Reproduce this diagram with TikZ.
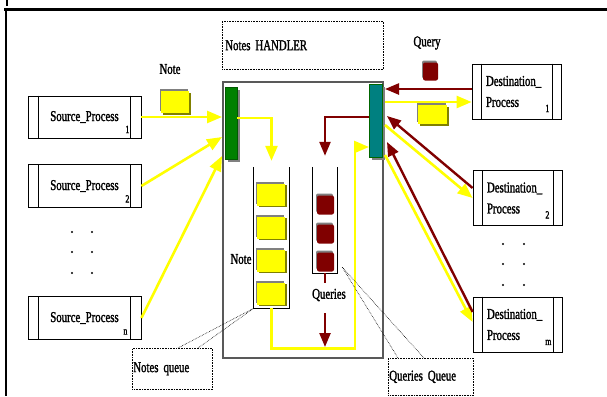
\documentclass[tikz,border=0pt]{standalone}
\usepackage{fontspec}
\setmainfont{Liberation Serif}[FakeStretch=0.72,FakeBold=1.5,WordSpace=0.7]
\usetikzlibrary{arrows.meta,shadows}
\definecolor{ylw}{RGB}{255,255,0}
\definecolor{mrn}{RGB}{128,0,0}
\definecolor{grn}{RGB}{0,128,0}
\definecolor{tea}{RGB}{0,128,128}
\definecolor{olv}{RGB}{128,128,0}
\definecolor{shd}{RGB}{128,128,128}
\begin{document}
\begin{tikzpicture}[x=1pt,y=-1pt,
  lbl/.style={font=\fontsize{15pt}{21pt}\selectfont, inner sep=0pt},
  subs/.style={font=\fontsize{11pt}{11pt}\selectfont, inner sep=0pt},
  procbox/.style={draw, line width=0.8pt, inner sep=0pt, font=\fontsize{15pt}{21pt}\selectfont},
  dotbox/.style={draw, densely dotted, line width=0.6pt, align=left, font=\fontsize{15pt}{21pt}\selectfont},
  yl/.style={draw=ylw, line width=2.6pt},
  mr/.style={draw=mrn, line width=2.4pt},
  ytip/.style={-{Triangle[length=15pt,width=12pt]}},
  mtip/.style={-{Triangle[length=14pt,width=11pt]}},
  notesq/.style={fill=ylw, inner sep=0pt, minimum width=28pt, minimum height=22pt,
    general shadow={fill=shd, shadow xshift=-1pt, shadow yshift=2pt},
    general shadow={fill=olv, shadow xshift=1.5pt, shadow yshift=-1.5pt}},
  qsq/.style={fill=mrn, rounded corners=2pt, inner sep=0pt, minimum width=17pt, minimum height=19pt,
    general shadow={fill=shd, shadow xshift=-1pt, shadow yshift=2pt}},
  barbox/.style={inner sep=0pt, general shadow={fill=shd, shadow xshift=3pt, shadow yshift=-3pt}},
  callout/.style={densely dotted, line width=0.6pt},
  dotmark/.style={fill=black}
]
\useasboundingbox (0,0) rectangle (607,396);

% frame
\draw[line width=3pt] (4,9.5) -- (607,9.5);
\draw[line width=2.5pt] (6,8) -- (6,396);
\draw[line width=1.5pt] (7,0) -- (7,6);

% dotted label boxes
\node[dotbox, minimum width=161pt, minimum height=48pt, text width=155pt, inner sep=3pt, anchor=north west] (hlbl) at (222,21) {Notes HANDLER};
\node[dotbox, minimum width=80pt, minimum height=41pt, text width=78pt, inner sep=1pt, anchor=north west] (nqlbl) at (132,348) {Notes queue};
\node[dotbox, minimum width=85pt, minimum height=37pt, text width=83pt, inner sep=1pt, anchor=north west] (qqlbl) at (388,358) {Queries Queue};

% main handler box
\node[draw=black!65, line width=1.5pt, minimum width=160pt, minimum height=276pt, inner sep=0pt] (hd) at (303,220) {};

% bars
\node[barbox, fill=grn, draw=grn!70!black, line width=0.5pt, minimum width=12pt, minimum height=72pt] (gbar) at (231,123) {};
\node[barbox, fill=tea, draw=grn!80!black, line width=0.5pt, minimum width=13pt, minimum height=73pt] (tbar) at (375.5,120.5) {};

% source processes
\node[procbox, minimum width=113pt, minimum height=42pt] (s1) at (84.5,117) {Source\_Process};
\node[procbox, minimum width=113pt, minimum height=43pt] (s2) at (84.5,186) {Source\_Process};
\node[procbox, minimum width=113pt, minimum height=43pt] (sn) at (84.5,318) {Source\_Process};
\foreach \n in {s1,s2,sn}{
  \draw[line width=0.8pt] ([xshift=11pt]\n.north west) -- ([xshift=11pt]\n.south west);
  \draw[line width=0.8pt] ([xshift=-11pt]\n.north east) -- ([xshift=-11pt]\n.south east);
}
\node[subs] (s1i) at ([shift={(-14,-9)}]s1.south east) {1};
\node[subs] (s2i) at ([shift={(-14,-9)}]s2.south east) {2};
\node[subs] (sni) at ([shift={(-16,-8)}]sn.south east) {n};

% destination processes
\node[procbox, minimum width=89pt, minimum height=55pt, text width=61pt, align=left] (d1) at (516.5,91.5) {Destination\_\\Process};
\node[procbox, minimum width=89pt, minimum height=55pt, text width=61pt, align=left] (d2) at (517.5,198) {Destination\_\\Process};
\node[procbox, minimum width=89pt, minimum height=55pt, text width=61pt, align=left] (dm) at (517.5,324.5) {Destination\_\\Process};
\foreach \n in {d1,d2,dm}{
  \draw[line width=0.8pt] ([xshift=10pt]\n.north west) -- ([xshift=10pt]\n.south west);
  \draw[line width=0.8pt] ([xshift=-9pt]\n.north east) -- ([xshift=-9pt]\n.south east);
}
\node[subs] (d1i) at ([shift={(-14,-11)}]d1.south east) {1};
\node[subs] (d2i) at ([shift={(-15,-11)}]d2.south east) {2};
\node[subs] (dmi) at ([shift={(-14,-10)}]dm.south east) {m};

% dots
\foreach \y in {232,252,273}{\fill[dotmark] (72,\y) circle (1.1pt); \fill[dotmark] (92,\y) circle (1.1pt);}
\foreach \y in {244,264,285}{\fill[dotmark] (503,\y) circle (1.1pt); \fill[dotmark] (524,\y) circle (1.1pt);}

% queues
\node[minimum width=35pt, minimum height=141pt, inner sep=0pt] (nq) at (271.5,237.5) {};
\draw[line width=0.9pt] (nq.north west) -- (nq.south west) -- (nq.south east) -- (nq.north east);
\node[minimum width=24pt, minimum height=106pt, inner sep=0pt] (qq) at (325,220) {};
\draw[line width=0.9pt] (qq.north west) -- (qq.south west) -- (qq.south east) -- (qq.north east);
\node[notesq] (n1) at (271,194.5) {};
\node[notesq] (n2) at (271,227.5) {};
\node[notesq] (n3) at (271,260.5) {};
\node[notesq] (n4) at (271,293.5) {};
\node[qsq] (q1) at (325.5,205) {};
\node[qsq] (q2) at (325.5,234) {};
\node[qsq] (q3) at (325.5,262) {};

% labels
\node[lbl] (notelbl) at (170,69) {Note};
\node[lbl] (querylbl) at (427,43) {Query};
\node[lbl] (notein) at (241,259) {Note};
\node[lbl] (qlbl) at (329,295) {Queries};

% flying messages
\node[notesq] (nfly) at (175,102) {};
\node[notesq, minimum width=29pt, minimum height=19pt] (nfly2) at (432.5,114.5) {};
\node[qsq, minimum width=15pt, minimum height=18pt] (qfly) at (430.5,71.5) {};

% coordinates on bars
\coordinate (g1) at (222,117);
\coordinate (g2) at (222,137);
\coordinate (g3) at (222,156);
\coordinate (gout) at (237,118);
\coordinate (tin) at (369,147);
\coordinate (tq) at (369,117);
\coordinate (t1) at (385,89);
\coordinate (t2) at (385,102);
\coordinate (t3) at (387,116);
\coordinate (t4) at (385,125);
\coordinate (t5) at (387,142);
\coordinate (t6) at (385,155);
\coordinate (qend) at (325,347);

% sources -> handler
\draw[yl,ytip] (s1.east) -- (g1);
\draw[yl,ytip] (s2.east) -- (g2);
\draw[yl,ytip] (sn.east) -- (g3);

% inside handler
\draw[yl,ytip] (gout) -| ([yshift=6pt]nq.north);
\draw[yl,ytip] (nq.south) -- ++(0,40) -| ([xshift=-14pt]tin) -- (tin);
\draw[mr,mtip] (tq) -| ([yshift=11pt]qq.north);
\draw[mr] (qq.south) -- (qq.south |- 0,283);
\draw[mr,mtip] (qq.south |- 0,313) -- (qend);

% destinations
\draw[mr,mtip] ([yshift=2.5pt]d1.west) -- (t1);
\draw[yl,ytip] (t2) -- ([yshift=-10.5pt]d1.west);
\draw[yl,ytip] (t4) -- (d2.west);
\draw[mr,mtip] ([yshift=10pt]d2.west) -- (t3);
\draw[yl,ytip] (t6) -- ([yshift=2.5pt]dm.west);
\draw[mr,mtip] ([yshift=12.5pt]dm.west) -- (t5);

% callouts
\draw[callout] ([xshift=46pt]nqlbl.north west) -- (nq.south west);
\draw[callout] ([xshift=66pt]nqlbl.north west) -- (nq.south west);
\draw[callout] ([shift={(5,-6)}]qq.south east) -- ([xshift=10pt]qqlbl.north west);
\draw[callout] ([shift={(5,-6)}]qq.south east) -- ([xshift=36pt]qqlbl.north west);
\end{tikzpicture}
\end{document}
